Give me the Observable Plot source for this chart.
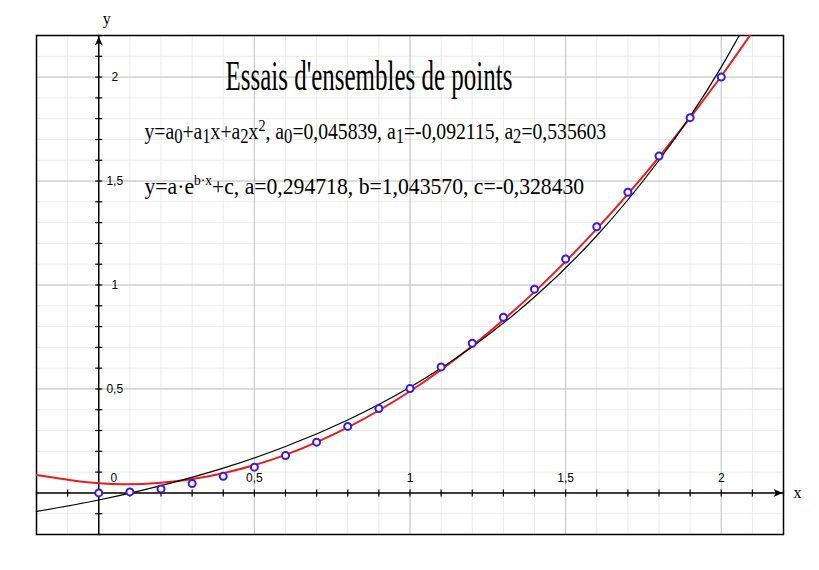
<!DOCTYPE html>
<html><head><meta charset="utf-8">
<script src="https://cdn.jsdelivr.net/npm/d3@7"></script>
<script src="https://cdn.jsdelivr.net/npm/@observablehq/plot@0.6"></script>
<style>html,body{margin:0;padding:0;background:#fff;}</style>
</head><body><div id="chart"></div>
<script>
// ---- data ----
const pointX = [0, 0.1, 0.2, 0.3, 0.4, 0.5, 0.6, 0.7, 0.8, 0.9, 1.0, 1.1, 1.2, 1.3, 1.4, 1.5, 1.6, 1.7, 1.8, 1.9, 2.0];
const pointY = [0.0, 0.005, 0.019, 0.045, 0.08, 0.124, 0.18, 0.244, 0.32, 0.406, 0.502, 0.606, 0.72, 0.845, 0.98, 1.125, 1.28, 1.446, 1.62, 1.805, 2.0];
const curveX = [-0.2, 0, 0.2, 0.4, 0.6, 0.8, 1.0, 1.2, 1.4, 1.6, 1.8, 2.0, 2.2];
const quadY = [0.086, 0.046, 0.049, 0.095, 0.183, 0.315, 0.489, 0.707, 0.967, 1.270, 1.615, 2.004, 2.436];
const expY = [-0.089, -0.034, 0.035, 0.119, 0.223, 0.351, 0.508, 0.703, 0.942, 1.237, 1.600, 2.048, 2.599];
const xTickValues = [0.5, 1, 1.5, 2];
const xTickLabels = ["0,5", "1", "1,5", "2"];
const yTickValues = [0.5, 1, 1.5, 2];
const yTickLabels = ["0,5", "1", "1,5", "2"];
const originLabel = ["0"];
const titleText = ["Essais d'ensembles de points"];
const eq1 = ["y=a_0+a_1x+a_2x^2, a_0=0,045839, a_1=-0,092115, a_2=0,535603"];
const eq2 = ["y=a·e^{b·x}+c, a=0,294718, b=1,043570, c=-0,328430"];

// grid / axis tick positions
const minorGrid = d3.range(-2, 23).map(i => i / 10);
const majorGrid = [0.5, 1, 1.5, 2];
const axisTicks = d3.range(-2, 23).filter(i => i !== 0).map(i => i / 10);

const points = pointX.map((x, i) => ({x, y: pointY[i]}));
const quad = curveX.map((x, i) => ({x, y: quadY[i]}));
const expo = curveX.map((x, i) => ({x, y: expY[i]}));

const tickV = {draw(c) { c.moveTo(0, -3.5); c.lineTo(0, 3.5); }};
const tickH = {draw(c) { c.moveTo(-3.5, 0); c.lineTo(3.5, 0); }};
const arrowUp = {draw(c) { c.moveTo(0, 0); c.lineTo(4, 9); c.lineTo(0, 6.5); c.lineTo(-4, 9); c.closePath(); }};
const arrowRight = {draw(c) { c.moveTo(0, 0); c.lineTo(-9, -4); c.lineTo(-6.5, 0); c.lineTo(-9, 4); c.closePath(); }};

const sans = "Liberation Sans, Arial, sans-serif";
const serif = "Liberation Serif, Times New Roman, serif";

const chart = Plot.plot({
  width: 819, height: 570,
  marginLeft: 36, marginRight: 36, marginTop: 35, marginBottom: 36,
  x: {domain: [-0.2, 2.2], axis: null},
  y: {domain: [-0.2, 2.2], axis: null},
  style: {background: "white", overflow: "visible"},
  marks: [
    Plot.ruleX(minorGrid, {stroke: "#ebebeb", strokeWidth: 1}),
    Plot.ruleY(minorGrid, {stroke: "#ebebeb", strokeWidth: 1}),
    Plot.ruleX(majorGrid, {stroke: "#c4c4c4", strokeWidth: 1}),
    Plot.ruleY(majorGrid, {stroke: "#c4c4c4", strokeWidth: 1}),
    Plot.ruleX([0], {stroke: "black", strokeWidth: 1.5}),
    Plot.ruleY([0], {stroke: "black", strokeWidth: 1.5}),
    Plot.dot(axisTicks, {x: d => d, y: 0, symbol: tickV, r: 3, fill: "none", stroke: "black", strokeWidth: 1.2}),
    Plot.dot(axisTicks, {x: 0, y: d => d, symbol: tickH, r: 3, fill: "none", stroke: "black", strokeWidth: 1.2}),
    Plot.dot([2.2], {x: d => d, y: 0, symbol: arrowRight, r: 4, fill: "black", stroke: "none", dx: -1}),
    Plot.dot([2.2], {x: 0, y: d => d, symbol: arrowUp, r: 4, fill: "black", stroke: "none", dy: 1}),
    Plot.frame({stroke: "black", strokeWidth: 1.5}),
    Plot.line(quad, {x: "x", y: "y", stroke: "#f01a1a", strokeWidth: 2, curve: "natural", clip: true}),
    Plot.line(expo, {x: "x", y: "y", stroke: "black", strokeWidth: 1.2, curve: "natural", clip: true}),
    Plot.dot(points, {x: "x", y: "y", r: 3.5, stroke: "#3a16ee", strokeWidth: 2, fill: "white"}),
    Plot.text(xTickValues, {x: d => d, y: 0, text: (d, i) => xTickLabels[i], dy: -15, fontSize: 12, fontFamily: sans, fill: "black"}),
    Plot.text(yTickValues, {x: 0, y: d => d, text: (d, i) => yTickLabels[i], dx: 16, fontSize: 12, fontFamily: sans, fill: "black"}),
    Plot.text(originLabel, {x: 0, y: 0, text: d => d, dx: 15, dy: -15, fontSize: 12, fontFamily: sans, fill: "black"}),
    Plot.text(["x"], {x: 2.2, y: 0, text: d => d, dx: 14, fontSize: 16, fontFamily: serif, fill: "black"}),
    Plot.text(["y"], {x: 0, y: 2.2, text: d => d, dx: 8, dy: -17, fontSize: 16, fontFamily: serif, fill: "black"}),
    Plot.text(titleText, {frameAnchor: "top-left", text: d => d, dx: 189, dy: 54, lineAnchor: "bottom", textAnchor: "start", fontSize: 42, fontFamily: serif, fill: "black"}),
    Plot.text(eq1, {frameAnchor: "top-left", text: d => d, dx: 108, dy: 103, lineAnchor: "bottom", textAnchor: "start", fontSize: 24, fontFamily: serif, fill: "black"}),
    Plot.text(eq2, {frameAnchor: "top-left", text: d => d, dx: 108, dy: 158, lineAnchor: "bottom", textAnchor: "start", fontSize: 24, fontFamily: serif, fill: "black"})
  ]
});
document.getElementById("chart").appendChild(chart);

// rich text (sub/superscripts) and horizontal compression like the original
function richify(el, fs, specs) {
  const raw = el.textContent;
  const parts = raw.split(/(_\{[^}]*\}|_.|\^\{[^}]*\}|\^.)/).filter(p => p.length);
  el.textContent = "";
  let shift = 0;
  for (const p of parts) {
    let txt = p, size = fs, target = 0;
    if (p[0] === "_") { txt = p.slice(1).replace(/[{}]/g, ""); size = fs * specs.subSize; target = specs.subShift; }
    else if (p[0] === "^") {
      txt = p.slice(1).replace(/[{}]/g, "");
      const small = txt.length > 1;
      size = fs * (small ? specs.supSmallSize : specs.supSize);
      target = small ? specs.supSmallShift : specs.supShift;
    }
    const t = document.createElementNS("http://www.w3.org/2000/svg", "tspan");
    t.setAttribute("font-size", size);
    t.setAttribute("dy", target - shift);
    shift = target;
    t.textContent = txt;
    el.appendChild(t);
  }
}
function squeeze(el, width) {
  const w = el.getComputedTextLength();
  const sx = width / w;
  const tr = el.getAttribute("transform") || "";
  el.setAttribute("transform", tr + ` scale(${sx},1)`);
}
const specs = {subSize: 0.85, subShift: 4, supSize: 0.72, supShift: -8, supSmallSize: 0.62, supSmallShift: -9};
for (const el of chart.querySelectorAll("text")) {
  const s = el.textContent;
  if (s.startsWith("Essais")) {
    squeeze(el, 287);
  } else if (s.startsWith("y=a_0")) {
    richify(el, 24, specs);
    squeeze(el, 462);
  } else if (s.startsWith("y=a·e")) {
    richify(el, 24, specs);
    squeeze(el, 440);
  }
}
</script>
</body></html>
